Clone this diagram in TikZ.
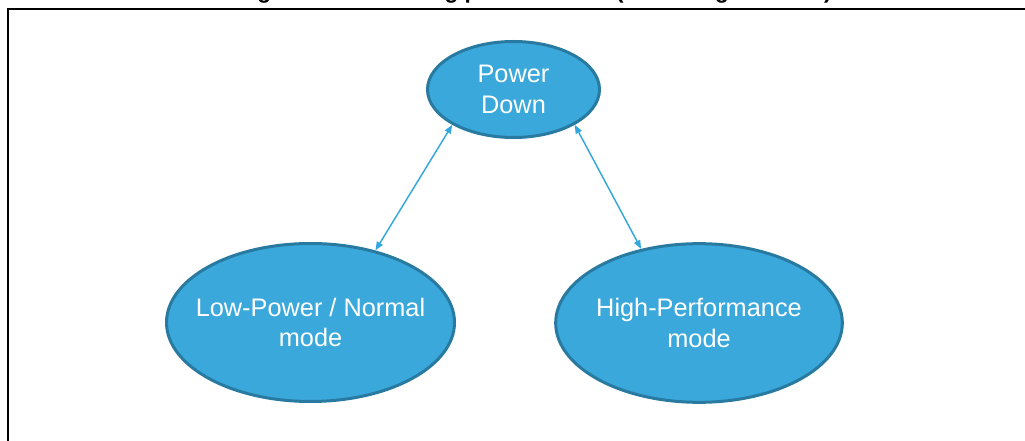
\documentclass[tikz,border=0pt]{standalone}
\usepackage{fontspec}
\setmainfont{Liberation Sans}
\usetikzlibrary{shapes.geometric,arrows.meta}
\definecolor{fillblue}{RGB}{58,168,219}
\definecolor{edgeblue}{RGB}{40,122,160}
\definecolor{arrowblue}{RGB}{52,168,220}
\begin{document}
\begin{tikzpicture}[x=0.75pt,y=-0.75pt,
  state/.style={ellipse, draw=edgeblue, line width=2.25pt, fill=fillblue, inner sep=0pt},
  statetext/.style={text=white, font=\fontsize{19}{23}\selectfont, align=center, inner sep=0pt},
  link/.style={arrowblue, line width=1.1pt,
    {Triangle[length=6.5pt,width=5pt]}-{Triangle[length=6.5pt,width=5pt]}},
  frameline/.style={black, line width=1.6pt}]
\useasboundingbox (0,0) rectangle (1025,441);
\clip (0,0) rectangle (1025,441);
\node[anchor=base west, inner sep=0pt, font=\bfseries\fontsize{16.9}{20}\selectfont] (title) at (237,-1.5)
  {Figure 10. Switching power modes (excluding the MLC)};
\draw[frameline] (8,470) -- (8,9) -- (1060,9);
\node[state, minimum width=129pt, minimum height=72pt] (pd) at (513.5,89.5) {};
\node[state, minimum width=216pt, minimum height=118.5pt] (lp) at (310.5,322.5) {};
\node[state, minimum width=215pt, minimum height=119pt] (hp) at (699,323) {};
\node[statetext] (pdt) at (pd.center) {Power\\Down};
\node[statetext] (lpt) at (lp.center) {Low-Power / Normal\\mode};
\node[statetext] (hpt) at (hp.center) {High-Performance\\mode};
\draw[link] (lp.48) -- (pd.210);
\draw[link] (pd.330) -- (hp.128);
\end{tikzpicture}
\end{document}
